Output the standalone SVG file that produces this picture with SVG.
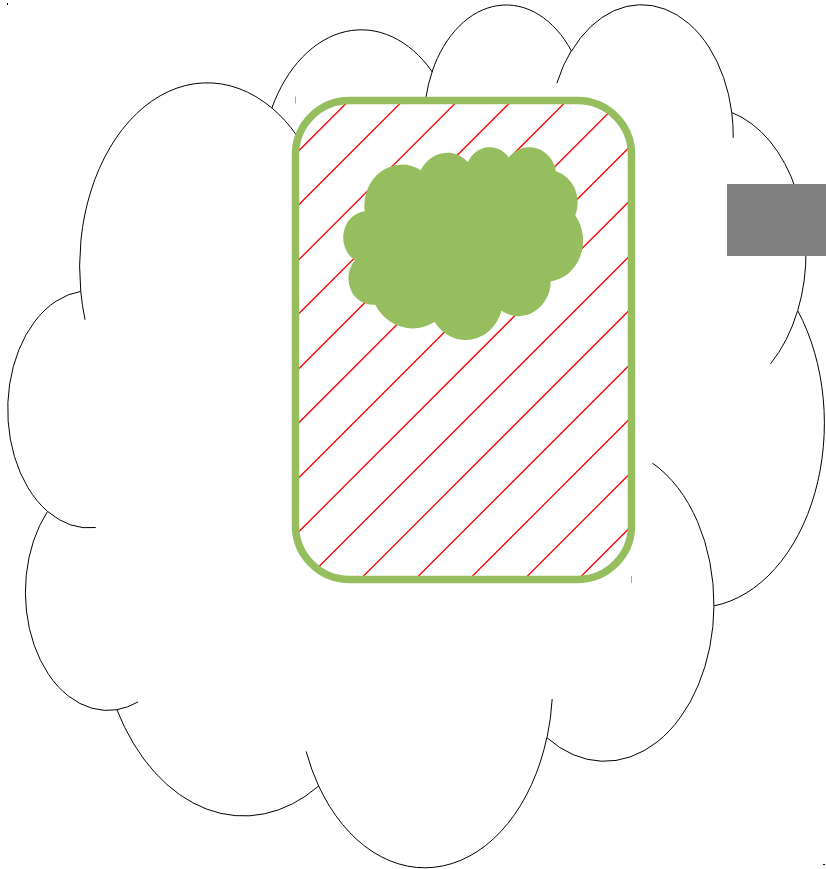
<svg xmlns="http://www.w3.org/2000/svg" xmlns:xlink="http://www.w3.org/1999/xlink" width="826" height="869" viewBox="0 0 826 869">
  <style>
    .cloud-line { fill: none; stroke: #000000; stroke-width: 1; }
    .hatch-line { stroke: #FF0000; stroke-width: 1.3; fill: none; }
    .tick-green { stroke: #96BE5F; stroke-width: 1; }
    .tick-black { stroke: #000000; stroke-width: 1; }
  </style>
  <defs>
    <path id="cloudShape" d="M 80.76 291.4 A 127.71 183.8 0 0 1 271.86 108.04 A 100.86 145.34 0 0 1 432.1 71.6 A 82.55 118.9 0 0 1 571.52 51.1 A 91.86 131.9 0 0 1 731.78 112.52 A 100.86 145.46 0 0 1 797.71 310.64 A 128.13 184.4 0 0 1 713.98 605.88 A 109.41 157.34 0 0 1 546.84 737.6 A 127.69 184.3 0 0 1 318.67 786 A 146 210.86 0 0 1 116.88 709.76 A 82.46 118.36 0 0 1 47.53 511.42 A 82.17 118.9 0 0 1 80.76 291.4 Z"/>
    <clipPath id="frameClip">
      <rect x="295.5" y="100.5" width="336" height="479" rx="54" ry="54"/>
    </clipPath>
  </defs>

  <g id="big-cloud">
    <use xlink:href="#cloudShape" fill="#FFFFFF" stroke="#000000" stroke-width="1"/>
    <path class="cloud-line" d="M 95.75 527.54 A 82.17 118.9 0 0 1 47.87 511.62 M 138.02 701.98 A 82.46 118.36 0 0 1 117.05 709.62 M 318.76 786.24 A 127.69 184.3 0 0 1 306.13 751.4 M 552.18 699.02 A 127.69 184.3 0 0 1 547.12 737.2 M 652.45 463.08 A 109.41 157.34 0 0 1 713.93 605.78 M 797.48 311.08 A 100.86 145.46 0 0 1 770.55 363.78 M 731.78 112.52 A 91.86 131.9 0 0 1 733.22 137.8 M 556.92 83.04 A 91.86 131.9 0 0 1 571.3 50.62 M 425.73 98.4 A 82.55 118.9 0 0 1 432.52 70.58 M 271.77 107.84 A 127.71 183.8 0 0 1 296.47 135.04 M 85.05 319.78 A 127.71 183.8 0 0 1 80.76 291.4"/>
  </g>

  <g id="hatched-frame">
    <rect x="295.5" y="100.5" width="336" height="479" rx="54" ry="54" fill="#FFFFFF"/>
    <path class="hatch-line" stroke="#FF0000" clip-path="url(#frameClip)" d="M 290 159.5 L 640 -190.5 M 290 213.5 L 640 -136.5 M 290 268.5 L 640 -81.5 M 290 322.5 L 640 -27.5 M 290 377.5 L 640 27.5 M 290 431.5 L 640 81.5 M 290 486.5 L 640 136.5 M 290 540.5 L 640 190.5 M 290 595.5 L 640 245.5 M 290 649.5 L 640 299.5 M 290 704.5 L 640 354.5 M 290 758.5 L 640 408.5 M 290 813.5 L 640 463.5 M 290 867.5 L 640 517.5"/>
    <rect x="295.5" y="100.5" width="336" height="479" rx="54" ry="54" fill="none" stroke="#96BE5F" stroke-width="7.5"/>
  </g>

  <g id="green-cloud">
    <use xlink:href="#cloudShape" fill="#96BE5F" stroke="none" transform="translate(343,147) scale(0.293758,0.22338) translate(-7,-4)"/>
  </g>

  <g id="gray-box">
    <rect x="727" y="184" width="99" height="72" fill="#808080"/>
  </g>

  <g id="marks">
    <line class="tick-green" x1="295.5" y1="96.5" x2="295.5" y2="103.5"/>
    <line class="tick-green" x1="631.5" y1="576" x2="631.5" y2="583"/>
    <line class="tick-black" x1="7.5" y1="3" x2="7.5" y2="5"/>
    <line class="tick-black" x1="823" y1="864.5" x2="825" y2="864.5"/>
  </g>
</svg>
